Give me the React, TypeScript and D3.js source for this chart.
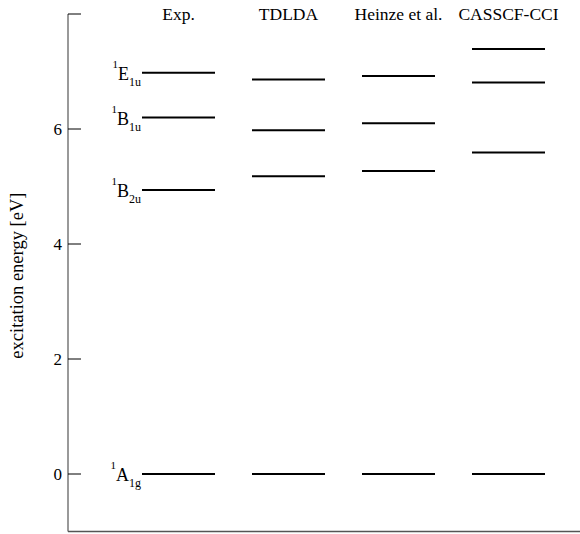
import { scaleLinear } from 'd3';

const methods = ['Exp.', 'TDLDA', 'Heinze et al.', 'CASSCF-CCI'];
const groundState = [0, 0, 0, 0];
const b2u = [4.94, 5.18, 5.27, 5.59];
const b1u = [6.2, 5.98, 6.1, 6.81];
const e1u = [6.98, 6.86, 6.92, 7.39];
const yTicks = [0, 2, 4, 6, 8];
const stateLabels = [
  { letter: 'A', sub: '1g', values: groundState },
  { letter: 'B', sub: '2u', values: b2u },
  { letter: 'B', sub: '1u', values: b1u },
  { letter: 'E', sub: '1u', values: e1u },
];

const width = 580;
const height = 534;
const axisX = 68;
const font = '"Liberation Serif", "Times New Roman", serif';

const y = scaleLinear().domain([-1, 8]).range([531.5, 14]);
const x = scaleLinear().domain([0, 3]).range([178.5, 508.5]);
const halfLen = 36.5;

function App() {
  return (
    <svg width={width} height={height} style={{ position: 'absolute', left: 0, top: 0 }} fontFamily={font}>
      <line x1={axisX} x2={axisX} y1={y(8)} y2={y(-1)} stroke="#777" strokeWidth={1.5} />
      <line x1={axisX} x2={width} y1={y(-1)} y2={y(-1)} stroke="#555" strokeWidth={1.5} />
      {yTicks.map(t => (
        <g key={t}>
          <line x1={axisX} x2={axisX + 13} y1={y(t)} y2={y(t)} stroke="#000" strokeWidth={1} />
          {t < 8 && (
            <text x={axisX - 6} y={y(t)} dy="0.35em" textAnchor="end" fontSize={17}>{t}</text>
          )}
        </g>
      ))}
      <text transform={`translate(23, ${y(3.45)}) rotate(-90)`} textAnchor="middle" fontSize={18.5}>
        excitation energy [eV]
      </text>
      {methods.map((m, i) => (
        <text key={m} x={x(i)} y={20} textAnchor="middle" fontSize={17.5}>{m}</text>
      ))}
      {stateLabels.map((s, si) => (
        <g key={si}>
          {s.values.map((v, i) => (
            <line key={i} x1={x(i) - halfLen} x2={x(i) + halfLen} y1={y(v)} y2={y(v)} stroke="#000" strokeWidth={2} />
          ))}
          <text x={x(0) - halfLen - 1} y={y(s.values[0]) + 7} textAnchor="end" fontSize={18}>
            <tspan fontSize={11} dy={-12}>1</tspan>
            <tspan dy={12}>{s.letter}</tspan>
            <tspan fontSize={12} dy={6}>{s.sub}</tspan>
          </text>
        </g>
      ))}
    </svg>
  );
}

export default App;
